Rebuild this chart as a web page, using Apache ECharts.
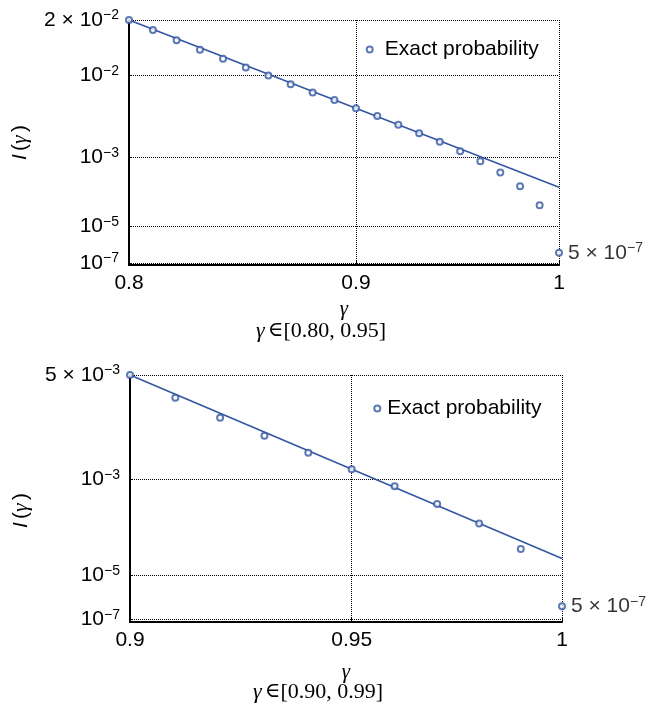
<!DOCTYPE html>
<html>
<head>
<meta charset="utf-8">
<script src="https://cdn.jsdelivr.net/npm/echarts@6/dist/echarts.min.js"></script>
<style>
html,body{margin:0;padding:0;background:#fff;}
#chart{width:646px;height:707px;}
</style>
</head>
<body>
<div id="chart"></div>
<script>
// ---------- data (y values are read in the panel's own relative plot scale, 0 = bottom axis, 100 = top) ----------
const gammaTop = [0.80,0.81,0.82,0.83,0.84,0.85,0.86,0.87,0.88,0.89,0.90,0.91,0.92,0.93,0.94,0.95,0.96,0.97,0.98,0.99,1.00];
const exactTop = [100,95.9,91.7,87.9,84.2,80.6,77.3,73.8,70.4,67.3,64.0,60.8,57.2,53.8,50.3,46.4,42.3,37.8,32.1,24.4,5.0];
const fitGammaTop = [0.80, 1.00];
const fitTop = [100, 31.7];
const yTickTop = [100, 77.3, 43.9, 15.8, 0.9];
const yTickBaseTop = ['2 × 10', '10', '10', '10', '10'];
const yTickExpTop = ['−2', '−2', '−3', '−5', '−7'];
const xTickTop = [0.8, 0.9, 1];

const gammaBottom = [0.90,0.91,0.92,0.93,0.94,0.95,0.96,0.97,0.98,0.99,1.00];
const exactBottom = [100,90.8,82.7,75.4,68.5,61.8,55.0,47.8,39.9,29.6,6.4];
const fitGammaBottom = [0.90, 1.00];
const fitBottom = [100, 25.7];
const yTickBottom = [100, 57.7, 18.9, 1.1];
const yTickBaseBottom = ['5 × 10', '10', '10', '10'];
const yTickExpBottom = ['−3', '−3', '−5', '−7'];
const xTickBottom = [0.9, 0.95, 1];

const endLabelBase = '5 × 10';
const endLabelExp = '−7';
const legendName = 'Exact probability';
const captionTop = '[0.80, 0.95]';
const captionBottom = '[0.90, 0.99]';

// ---------- styling ----------
const BLUE = '#3457a3';
const SANS = 'Liberation Sans, Arial, Helvetica, sans-serif';
const SERIF = 'Liberation Serif, Times New Roman, serif';
const richSup = {
  b: {fontFamily: SANS, fontSize: 21, lineHeight: 23, color: '#000'},
  s: {fontFamily: SANS, fontSize: 14, lineHeight: 14, verticalAlign: 'top', color: '#000'}
};
const lnx = g => Math.log(g);
const DOT = [1, 1];

function yFormatter(ticks, bases, exps) {
  return function (v) {
    for (let i = 0; i < ticks.length; i++) {
      if (Math.abs(ticks[i] - v) < 1e-6) return '{b|' + bases[i] + '}{s|' + exps[i] + '}';
    }
    return '';
  };
}
function xFormatter(v) {
  return String(parseFloat(Math.exp(v).toFixed(3)));
}

function xAxisFor(gridIndex, ticks, minG, maxG, nameGap) {
  return {
    type: 'value', gridIndex,
    min: lnx(minG), max: lnx(maxG),
    name: 'γ', nameLocation: 'middle', nameGap,
    nameTextStyle: {fontFamily: SERIF, fontStyle: 'italic', fontSize: 21, color: '#000'},
    axisLine: {show: true, onZero: false, lineStyle: {color: '#000', width: 2}},
    axisTick: {show: true, inside: true, length: 4, customValues: ticks.map(lnx), lineStyle: {color: '#000', width: 1}},
    axisLabel: {show: true, customValues: ticks.map(lnx), formatter: xFormatter, margin: 8,
      fontFamily: SANS, fontSize: 21, color: '#000'},
    splitLine: {show: true, lineStyle: {color: '#000', width: 1, type: DOT}}
  };
}
function yAxisFor(gridIndex, ticks, bases, exps, padding) {
  return {
    type: 'value', gridIndex, min: 0, max: 100,
    name: '{i|I} {n|(}{g|γ} {n|)}', nameLocation: 'middle', nameGap: 98,
    nameTextStyle: {padding, rich: {
      i: {fontFamily: SANS, fontStyle: 'italic', fontSize: 21, color: '#000'},
      n: {fontFamily: SANS, fontSize: 21, color: '#000'},
      g: {fontFamily: SERIF, fontStyle: 'italic', fontSize: 22, color: '#000'}
    }},
    axisLine: {show: true, onZero: false, lineStyle: {color: '#000', width: 2}},
    axisTick: {show: true, inside: true, length: 3, customValues: ticks, lineStyle: {color: '#000', width: 1}},
    axisLabel: {show: true, customValues: ticks, formatter: yFormatter(ticks, bases, exps), margin: 10, rich: richSup},
    splitLine: {show: true, lineStyle: {color: '#000', width: 1, type: DOT}}
  };
}
function toPairs(gs, ys) { return gs.map((g, i) => [lnx(g), ys[i]]); }

function exactSeries(idx, gs, ys) {
  const data = toPairs(gs, ys);
  const last = data.length - 1;
  data[last] = {value: data[last], label: {show: true, position: 'right', distance: 5,
    formatter: '{b|' + endLabelBase + '}{s|' + endLabelExp + '}', rich: richSup}};
  return {
    name: legendName, type: 'scatter', xAxisIndex: idx, yAxisIndex: idx,
    symbol: 'emptyCircle', symbolSize: 6,
    itemStyle: {color: BLUE, borderColor: BLUE, borderWidth: 1.5},
    data, z: 5, clip: false
  };
}
function fitSeries(idx, gs, ys) {
  return {
    name: 'fit', type: 'line', xAxisIndex: idx, yAxisIndex: idx,
    showSymbol: false, symbol: 'none', lineStyle: {color: BLUE, width: 1.6},
    data: toPairs(gs, ys), z: 3, silent: true
  };
}
const captionRich = {
  g: {fontFamily: SERIF, fontStyle: 'italic', fontSize: 22},
  e: {fontFamily: 'DejaVu Serif, serif', fontSize: 21},
  t: {fontFamily: SERIF, fontSize: 22}
};

const chart = echarts.init(document.getElementById('chart'), null, {renderer: 'canvas'});
chart.setOption({
  backgroundColor: '#fff',
  animation: false,
  grid: [
    {left: 129, top: 20, width: 430, height: 245},
    {left: 130, top: 375, width: 432, height: 247}
  ],
  xAxis: [
    xAxisFor(0, xTickTop, gammaTop[0], gammaTop[gammaTop.length - 1], 34),
    xAxisFor(1, xTickBottom, gammaBottom[0], gammaBottom[gammaBottom.length - 1], 40)
  ],
  yAxis: [
    yAxisFor(0, yTickTop, yTickBaseTop, yTickExpTop, [0, 0, 0, 0]),
    yAxisFor(1, yTickBottom, yTickBaseBottom, yTickExpBottom, [0, 24, 0, 0])
  ],
  legend: [
    {data: [{name: legendName, icon: 'emptyCircle'}], left: 360.7, top: 34, itemWidth: 20, itemHeight: 6,
      itemStyle: {borderWidth: 1.5},
      textStyle: {fontFamily: SANS, fontSize: 21, color: '#000'}, selectedMode: false},
    {data: [{name: legendName, icon: 'emptyCircle'}], left: 368.3, top: 393, itemWidth: 10, itemHeight: 6,
      itemStyle: {borderWidth: 1.5},
      textStyle: {fontFamily: SANS, fontSize: 21, color: '#000'}, selectedMode: false}
  ],
  graphic: [
    {type: 'text', x: 321, y: 331, style: {text: '{g|γ} {e|∈}{t|' + captionTop + '}', textAlign: 'center', textVerticalAlign: 'middle',
      fill: '#000', rich: captionRich}},
    {type: 'text', x: 318, y: 692, style: {text: '{g|γ} {e|∈}{t|' + captionBottom + '}', textAlign: 'center', textVerticalAlign: 'middle',
      fill: '#000', rich: captionRich}}
  ],
  series: [
    fitSeries(0, fitGammaTop, fitTop),
    exactSeries(0, gammaTop, exactTop),
    fitSeries(1, fitGammaBottom, fitBottom),
    exactSeries(1, gammaBottom, exactBottom)
  ]
});
</script>
</body>
</html>
